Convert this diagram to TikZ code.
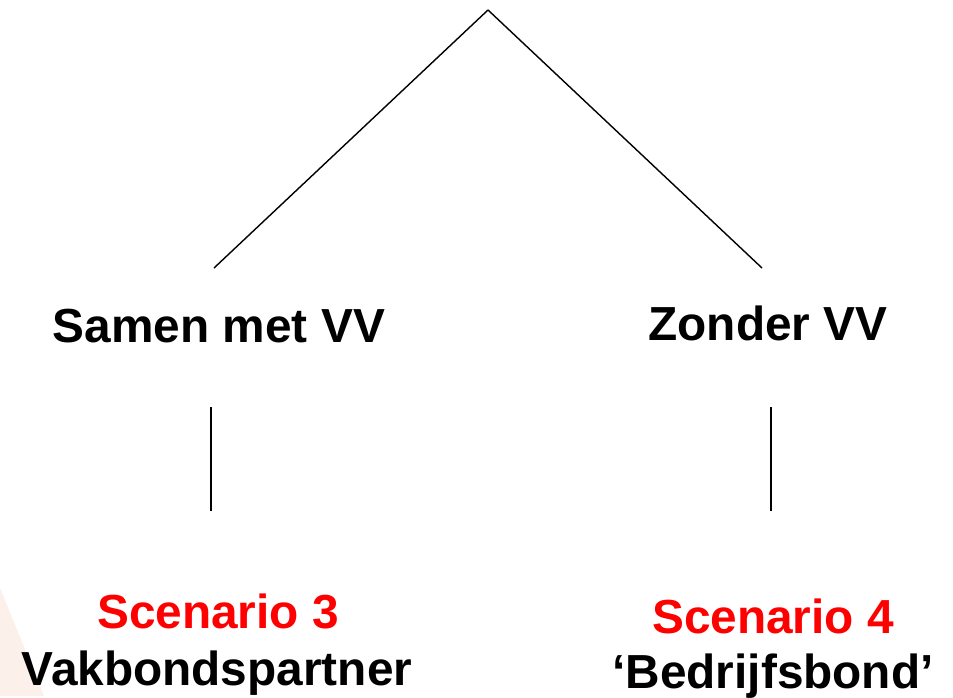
\documentclass[tikz,border=0pt]{standalone}
\usepackage{fontspec}
\setmainfont{Liberation Sans}
\definecolor{peach}{HTML}{FCF0EA}
\definecolor{scred}{HTML}{FF0000}

\begin{document}
\begin{tikzpicture}[x=0.02cm, y=-0.02cm, line width=0.8pt,
  label/.style={anchor=base, inner sep=0pt, font=\fontsize{27.2}{32}\selectfont\bfseries},
  scen/.style={label, text=scred}]
  % background
  \fill[fill=white] (0,0) rectangle (953,696);
  \fill[peach] (0,588) -- (44,696) -- (0,696) -- cycle;

  % draw choices
  \node [label] (choice-1) at (219,342) {Samen met VV};
  \node [label] (choice-2) at (768,340) {Zonder VV};

  % draw scenarios
  \node [scen] (scen-1) at (218,628) {Scenario 3};
  \node [scen] (scen-2) at (773,633) {Scenario 4};
  \node [label] (name-1) at (217,685) {Vakbondspartner};
  \node [label] (name-2) at (773,688) {`Bedrijfsbond'};

  % draw tree
  \coordinate (top) at (488,10);
  \coordinate (end-1) at (214,268);
  \coordinate (end-2) at (762,268);
  \foreach \i in {1,2}
  \draw (top) -- (end-\i);

  \foreach \i/\x in {1/211, 2/771}
  {
    \coordinate (up-\i) at (\x,407);
    \coordinate (down-\i) at (\x,511);
    \draw (up-\i) -- (down-\i);
  }
\end{tikzpicture}
\end{document}
